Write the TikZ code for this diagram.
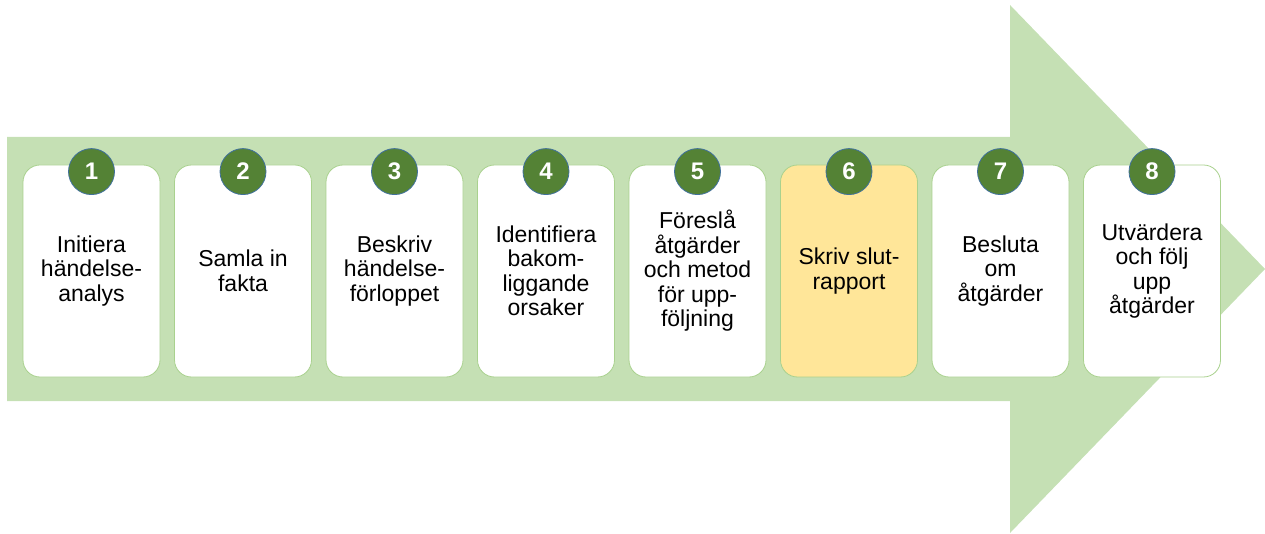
\documentclass[tikz,border=0pt]{standalone}
\usepackage{fontspec}
\setmainfont{Liberation Sans}
\usepackage{xcolor}
\usetikzlibrary{positioning}
\definecolor{bandgreen}{HTML}{C5E0B4}
\definecolor{cardline}{HTML}{A9D18E}
\definecolor{dotgreen}{HTML}{548235}
\definecolor{dotline}{HTML}{41719C}
\definecolor{hilite}{HTML}{FFE699}
\tikzstyle{card} = [rectangle, rounded corners=17pt, minimum width=137pt, minimum height=212pt, align=center, fill=white, draw=cardline, line width=0.8pt, font=\fontsize{23}{24.5}\selectfont]
\tikzstyle{badge} = [circle, minimum size=46pt, inner sep=0pt, fill=dotgreen, draw=dotline, line width=0.8pt, text=white, font=\fontsize{24}{24}\selectfont\bfseries]

\begin{document}
\begin{tikzpicture}[x=1pt,y=1pt,node distance=13.7pt]
	\useasboundingbox (0,0) rectangle (1265,533);
	% big arrow behind the steps
	\fill[bandgreen] (7,132) -- (1010,132) -- (1010,0) -- (1265,264) -- (1010,528) -- (1010,396) -- (7,396) -- cycle;

	\node (initiera) [card] at (91.5,262) {Initiera\\händelse-\\analys};
	\node (samla) [card, right=of initiera] {Samla in\\fakta};
	\node (beskriv) [card, right=of samla] {Beskriv\\händelse-\\förloppet};
	\node (orsaker) [card, right=of beskriv] {Identifiera\\bakom-\\liggande\\orsaker};
	\node (foresla) [card, right=of orsaker] {Föreslå\\åtgärder\\och metod\\för upp-\\följning};
	\node (rapport) [card, fill=hilite, right=of foresla] {Skriv slut-\\rapport};
	\node (besluta) [card, right=of rapport] {Besluta\\om\\åtgärder};
	\node (utvardera) [card, right=of besluta] {Utvärdera\\och följ\\upp\\åtgärder};

	\node (n1) [badge] at ([yshift=-7pt]initiera.north) {1};
	\node (n2) [badge] at ([yshift=-7pt]samla.north) {2};
	\node (n3) [badge] at ([yshift=-7pt]beskriv.north) {3};
	\node (n4) [badge] at ([yshift=-7pt]orsaker.north) {4};
	\node (n5) [badge] at ([yshift=-7pt]foresla.north) {5};
	\node (n6) [badge] at ([yshift=-7pt]rapport.north) {6};
	\node (n7) [badge] at ([yshift=-7pt]besluta.north) {7};
	\node (n8) [badge] at ([yshift=-7pt]utvardera.north) {8};
\end{tikzpicture}
\end{document}
